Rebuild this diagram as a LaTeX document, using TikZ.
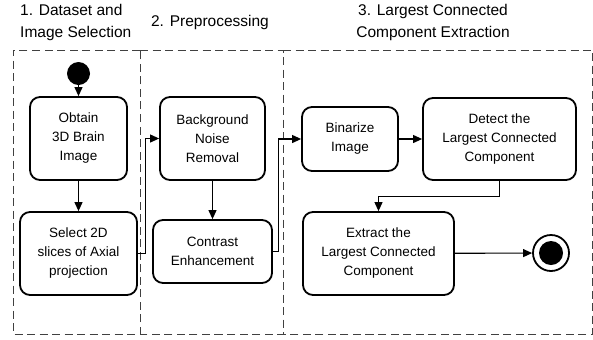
\documentclass[tikz,border=0pt]{standalone}
\usepackage{fontspec}
\setmainfont{Liberation Sans}
\usetikzlibrary{arrows.meta,calc}
\begin{document}
\begin{tikzpicture}[x=1bp,y=-1bp,
  box/.style={draw,line width=1.8bp,rounded corners=10bp,align=center,inner sep=0pt,
    font=\fontsize{13.5bp}{19bp}\selectfont},
  arr/.style={line width=1.1bp,-{Triangle[length=9bp,width=8bp]}},
  lane/.style={draw=black!75,line width=1bp,dash pattern=on 8bp off 4.5bp},
  ttl/.style={inner sep=0pt,font=\fontsize{15.5bp}{22bp}\selectfont}]
\useasboundingbox (0,0) rectangle (593,339);
% lanes
\draw[lane] (140,50) -- (13,50) -- (13,334) -- (140,334) -- cycle;
\draw[lane] (140,50) -- (283,50) -- (283,334) -- (140,334);
\draw[lane] (283,50) -- (592.5,50) -- (592.5,334) -- (283,334);
% titles
\node[ttl,anchor=west,align=left] (t1) at (20,22) {1. Dataset and\\Image Selection};
\node[ttl] (t2) at (210,22) {2. Preprocessing};
\node[ttl,align=center] (t3) at (433,22) {3. Largest Connected\\Component Extraction};
% nodes
\node[circle,fill=black,minimum size=23bp,inner sep=0pt] (start) at (78.5,73.5) {};
\node[box,minimum width=97bp,minimum height=83bp] (obtain) at (78.5,138.5) {Obtain\\3D Brain\\Image};
\node[box,minimum width=117bp,minimum height=83bp] (select) at (78.5,253.5) {Select 2D\\slices of Axial\\projection};
\node[box,minimum width=105bp,minimum height=83bp] (bnr) at (212.5,138.5) {Background\\Noise\\Removal};
\node[box,minimum width=119bp,minimum height=63bp] (ce) at (212.5,251.5) {Contrast\\Enhancement};
\node[box,minimum width=96bp,minimum height=64bp] (bin) at (350,139) {Binarize\\Image};
\node[box,minimum width=153bp,minimum height=82bp] (detect) at (499.5,139) {Detect the\\Largest Connected\\Component};
\node[box,minimum width=151bp,minimum height=83bp] (extract) at (378.5,253.5) {Extract the\\Largest Connected\\Component};
\node[circle,draw,line width=1.8bp,minimum size=36bp,inner sep=0pt] (end) at (551,253) {};
\node[circle,fill=black,minimum size=24bp,inner sep=0pt] (endin) at (end.center) {};
% connectors
\draw[arr] (start) -- (obtain);
\draw[arr] (obtain) -- (select);
\draw[arr] (select.east) -- ++(8,0) |- (bnr.west);
\draw[arr] (bnr) -- (ce);
\draw[arr] (ce.east) -- ++(6,0) |- (bin.west);
\draw[arr] (bin) -- (detect);
\draw[arr] (detect.south) -- ++(0,16) -| (extract.north);
\draw[arr] (extract) -- (end);
\end{tikzpicture}
\end{document}
